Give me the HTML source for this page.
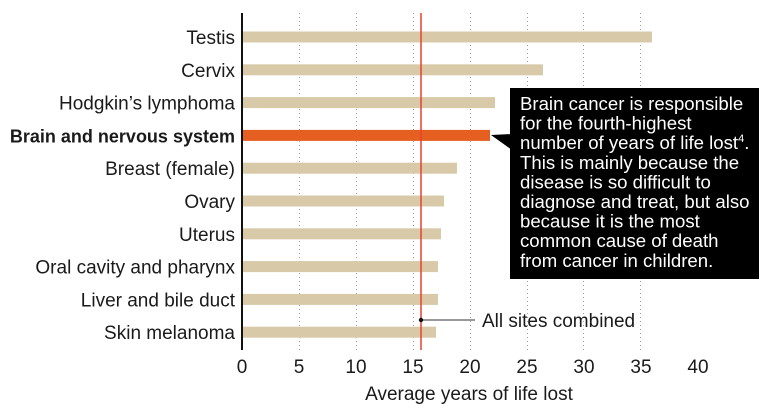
<!DOCTYPE html>
<html>
<head>
<meta charset="utf-8">
<style>
html,body{margin:0;padding:0;background:#fff;}
body{width:767px;height:420px;overflow:hidden;}
svg{display:block;}
text{font-family:"Liberation Sans",Arial,sans-serif;fill:#1a1a1a;}
text.w, text.w tspan{fill:#ffffff;}
</style>
</head>
<body>
<svg width="767" height="420" viewBox="0 0 767 420" xmlns="http://www.w3.org/2000/svg">
  <!-- gridlines -->
  <g stroke="#9a9a9a" stroke-width="1" stroke-dasharray="1,3">
    <line x1="299.5" y1="13" x2="299.5" y2="350"/>
    <line x1="356.5" y1="13" x2="356.5" y2="350"/>
    <line x1="413.5" y1="13" x2="413.5" y2="350"/>
    <line x1="470.5" y1="13" x2="470.5" y2="350"/>
    <line x1="527.5" y1="13" x2="527.5" y2="350"/>
    <line x1="583.5" y1="13" x2="583.5" y2="350"/>
    <line x1="640.5" y1="13" x2="640.5" y2="350"/>
  </g>

  <!-- bars -->
  <g fill="#d8c9a8">
    <rect x="243" y="31.5" width="409" height="11"/>
    <rect x="243" y="64.3" width="300" height="11"/>
    <rect x="243" y="97.1" width="252" height="11"/>
    <rect x="243" y="162.7" width="214" height="11"/>
    <rect x="243" y="195.5" width="201" height="11"/>
    <rect x="243" y="228.3" width="198" height="11"/>
    <rect x="243" y="261.1" width="195" height="11"/>
    <rect x="243" y="293.9" width="195" height="11"/>
    <rect x="243" y="326.7" width="193" height="11"/>
  </g>
  <rect x="243" y="129.9" width="247" height="11" fill="#e55f20"/>

  <!-- red average line -->
  <line x1="421" y1="13" x2="421" y2="350" stroke="#e8412c" stroke-width="1.5"/>

  <!-- axis -->
  <line x1="242" y1="13" x2="242" y2="350" stroke="#111" stroke-width="2"/>

  <!-- all sites combined annotation -->
  <line x1="421" y1="320" x2="475" y2="320" stroke="#777" stroke-width="1.5"/>
  <circle cx="421" cy="320" r="2.2" fill="#111"/>
  <text x="482" y="327" font-size="19">All sites combined</text>

  <!-- category labels -->
  <g font-size="19" text-anchor="end">
    <text x="235" y="44">Testis</text>
    <text x="235" y="76.8">Cervix</text>
    <text x="235" y="109.6">Hodgkin’s lymphoma</text>
    <text x="235" y="142.4" font-weight="bold" font-size="18">Brain and nervous system</text>
    <text x="235" y="175.2">Breast (female)</text>
    <text x="235" y="208">Ovary</text>
    <text x="235" y="240.8">Uterus</text>
    <text x="235" y="273.6">Oral cavity and pharynx</text>
    <text x="235" y="306.4">Liver and bile duct</text>
    <text x="235" y="339.2">Skin melanoma</text>
  </g>

  <!-- tick labels -->
  <g font-size="19" text-anchor="middle">
    <text x="242" y="373">0</text>
    <text x="299" y="373">5</text>
    <text x="356" y="373">10</text>
    <text x="413" y="373">15</text>
    <text x="470" y="373">20</text>
    <text x="527" y="373">25</text>
    <text x="584" y="373">30</text>
    <text x="641" y="373">35</text>
    <text x="698" y="373">40</text>
  </g>
  <text x="469" y="400" font-size="19" text-anchor="middle">Average years of life lost</text>

  <!-- callout box -->
  <polygon points="491,135 512,134 512,150" fill="#000"/>
  <rect x="510" y="88" width="249" height="191" fill="#000"/>
  <g font-size="18.6">
    <text class="w" x="520" y="110">Brain cancer is responsible</text>
    <text class="w" x="520" y="129.6">for the fourth-highest</text>
    <text class="w" x="520" y="149.2">number of years of life lost<tspan font-size="11" dy="-7">4</tspan><tspan dy="7">.</tspan></text>
    <text class="w" x="520" y="168.8">This is mainly because the</text>
    <text class="w" x="520" y="188.4">disease is so difficult to</text>
    <text class="w" x="520" y="208">diagnose and treat, but also</text>
    <text class="w" x="520" y="227.6">because it is the most</text>
    <text class="w" x="520" y="247.2">common cause of death</text>
    <text class="w" x="520" y="266.8">from cancer in children.</text>
  </g>
</svg>
</body>
</html>
